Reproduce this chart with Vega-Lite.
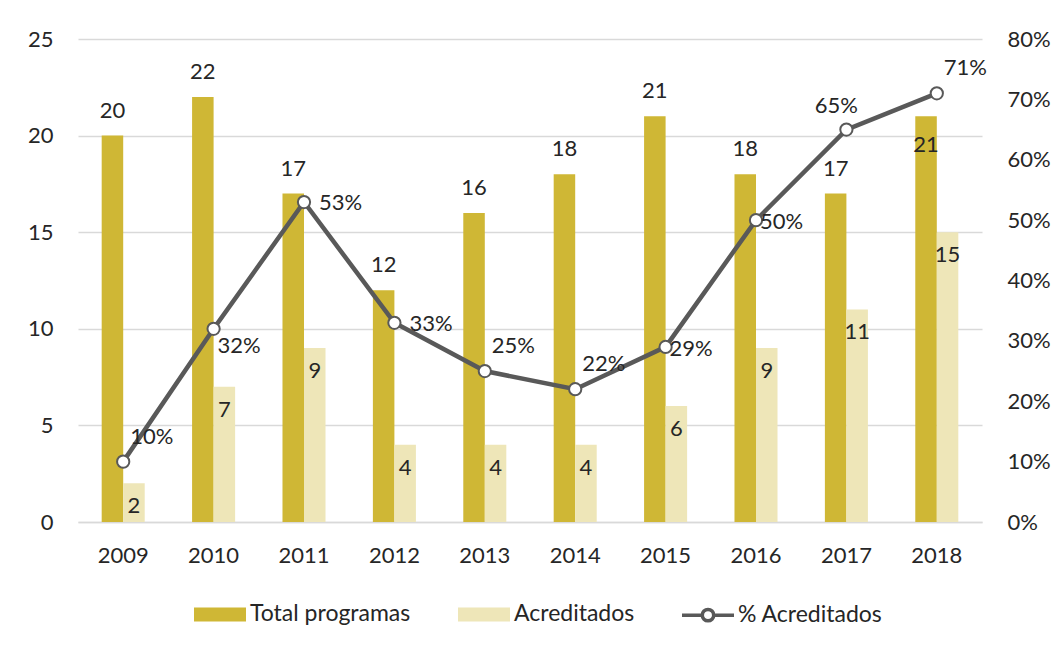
{
  "$schema": "https://vega.github.io/schema/vega-lite/v6.json",
  "width": 904,
  "height": 483,
  "autosize": {"type": "none"},
  "padding": {"left": 78, "top": 39, "right": 78, "bottom": 126},
  "background": "white",
  "config": {
    "font": "Lato",
    "view": {"stroke": null},
    "text": {"font": "Lato", "fontSize": 22, "color": "#262626"}
  },
  "data": {
    "values": [
      {"year": "2009", "Total programas": 20, "Acreditados": 2, "pct": 0.10},
      {"year": "2010", "Total programas": 22, "Acreditados": 7, "pct": 0.32},
      {"year": "2011", "Total programas": 17, "Acreditados": 9, "pct": 0.53},
      {"year": "2012", "Total programas": 12, "Acreditados": 4, "pct": 0.33},
      {"year": "2013", "Total programas": 16, "Acreditados": 4, "pct": 0.25},
      {"year": "2014", "Total programas": 18, "Acreditados": 4, "pct": 0.22},
      {"year": "2015", "Total programas": 21, "Acreditados": 6, "pct": 0.29},
      {"year": "2016", "Total programas": 18, "Acreditados": 9, "pct": 0.50},
      {"year": "2017", "Total programas": 17, "Acreditados": 11, "pct": 0.65},
      {"year": "2018", "Total programas": 21, "Acreditados": 15, "pct": 0.71}
    ]
  },
  "layer": [
    {
      "transform": [{"fold": ["Total programas", "Acreditados"], "as": ["serie", "valor"]}],
      "encoding": {
        "x": {
          "field": "year", "type": "nominal",
          "scale": {"paddingInner": 0.524, "paddingOuter": 0.262},
          "axis": {"title": null, "labelAngle": 0, "domainColor": "#D9D9D9", "domainWidth": 1.5, "ticks": false, "labelFontSize": 22, "labelFont": "Lato", "labelColor": "#262626", "labelPadding": 23}
        },
        "xOffset": {"field": "serie", "type": "nominal", "scale": {"domain": ["Total programas", "Acreditados"], "padding": 0}},
        "y": {
          "field": "valor", "type": "quantitative",
          "scale": {"domain": [0, 25]},
          "axis": {"title": null, "values": [0, 5, 10, 15, 20, 25], "domain": false, "ticks": false, "gridColor": "#D9D9D9", "gridWidth": 1.5, "labelPadding": 25, "labelFontSize": 22, "labelFont": "Lato", "labelColor": "#262626"}
        }
      },
      "layer": [
        {
          "mark": {"type": "bar"},
          "encoding": {
            "color": {
              "field": "serie", "type": "nominal",
              "scale": {"domain": ["Total programas", "Acreditados", "% Acreditados"], "range": ["#CFB735", "#EEE6B8", "white"]},
              "legend": {
                "orient": "none", "legendX": 114, "legendY": 547, "direction": "horizontal", "title": null,
                "symbolSize": 2704, "symbolType": "M-1,-0.27H1V0.27H-1Z", "symbolStrokeWidth": 3.5,
                "labelFontSize": 23, "labelFont": "Lato", "labelColor": "#262626", "labelOffset": 2, "columnPadding": 40, "labelLimit": 0,
                "encoding": {
                  "symbols": {
                    "shape": {"value": {"expr": "datum.value === '% Acreditados' ? 'M-1,0H-0.22M0.22,0H1M0.22,0A0.22,0.22,0,1,1,-0.22,0A0.22,0.22,0,1,1,0.22,0' : 'M-1,-0.27H1V0.27H-1Z'"}},
                    "stroke": {"value": {"expr": "datum.value === '% Acreditados' ? '#595959' : 'transparent'"}}
                  }
                }
              }
            }
          }
        },
        {
          "transform": [{"filter": "datum.serie === 'Total programas' && datum.year !== '2018'"}],
          "mark": {"type": "text", "baseline": "alphabetic", "dy": -18},
          "encoding": {"text": {"field": "valor", "type": "quantitative"}}
        },
        {
          "transform": [{"filter": "datum.serie === 'Total programas' && datum.year === '2018'"}],
          "mark": {"type": "text", "baseline": "alphabetic", "dy": 36},
          "encoding": {"text": {"field": "valor", "type": "quantitative"}}
        },
        {
          "transform": [{"filter": "datum.serie === 'Acreditados'"}],
          "mark": {"type": "text", "baseline": "alphabetic", "dy": 30},
          "encoding": {"text": {"field": "valor", "type": "quantitative"}}
        }
      ]
    },
    {
      "encoding": {
        "x": {
          "field": "year", "type": "nominal",
          "axis": {"title": null, "labelAngle": 0, "domainColor": "#D9D9D9", "domainWidth": 1.5, "ticks": false, "labelFontSize": 22, "labelFont": "Lato", "labelColor": "#262626", "labelPadding": 23}
        },
        "y": {
          "field": "pct", "type": "quantitative",
          "scale": {"domain": [0, 0.8]},
          "axis": {"orient": "right", "title": null, "format": ".0%", "values": [0, 0.1, 0.2, 0.3, 0.4, 0.5, 0.6, 0.7, 0.8], "grid": false, "domain": false, "ticks": false, "labelPadding": 25, "labelFontSize": 22, "labelFont": "Lato", "labelColor": "#262626"}
        }
      },
      "layer": [
        {"mark": {"type": "line", "color": "#595959", "strokeWidth": 4.5}, "encoding": {}},
        {"mark": {"type": "point", "filled": true, "fill": "white", "stroke": "#595959", "strokeWidth": 2, "size": 150, "opacity": 1}, "encoding": {}},
        {
          "transform": [{"filter": {"field": "year", "oneOf": ["2015", "2016"]}}],
          "mark": {"type": "text", "align": "left", "baseline": "middle", "dx": 4, "dy": 2},
          "encoding": {"text": {"field": "pct", "type": "quantitative", "format": ".0%"}}
        },
        {
          "transform": [{"filter": {"field": "year", "oneOf": ["2011", "2012"]}}],
          "mark": {"type": "text", "align": "left", "baseline": "middle", "dx": 15, "dy": 1},
          "encoding": {"text": {"field": "pct", "type": "quantitative", "format": ".0%"}}
        },
        {
          "transform": [{"filter": {"field": "year", "oneOf": ["2009", "2013", "2014", "2018"]}}],
          "mark": {"type": "text", "align": "left", "baseline": "middle", "dx": 7, "dy": -25},
          "encoding": {"text": {"field": "pct", "type": "quantitative", "format": ".0%"}}
        },
        {
          "transform": [{"filter": {"field": "year", "oneOf": ["2010"]}}],
          "mark": {"type": "text", "align": "left", "baseline": "middle", "dx": 4, "dy": 17},
          "encoding": {"text": {"field": "pct", "type": "quantitative", "format": ".0%"}}
        },
        {
          "transform": [{"filter": {"field": "year", "oneOf": ["2017"]}}],
          "mark": {"type": "text", "align": "center", "baseline": "middle", "dx": -10, "dy": -24},
          "encoding": {"text": {"field": "pct", "type": "quantitative", "format": ".0%"}}
        }
      ]
    }
  ],
  "resolve": {"scale": {"y": "independent"}}
}
